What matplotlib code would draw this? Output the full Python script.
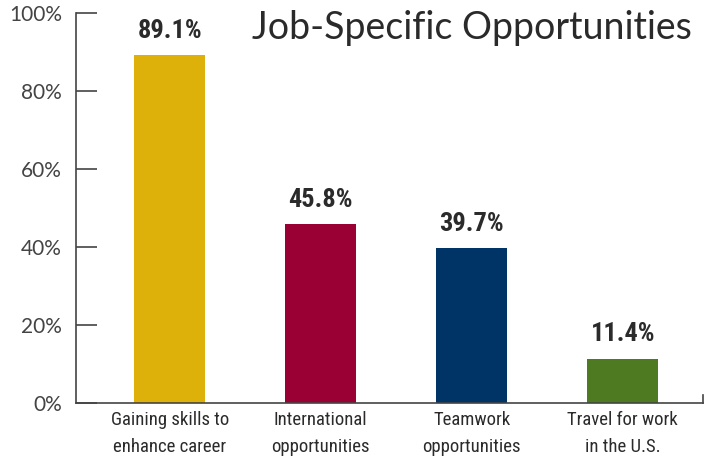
import matplotlib.pyplot as plt
from matplotlib import font_manager

categories = ["Gaining skills to\nenhance career", "International\nopportunities",
              "Teamwork\nopportunities", "Travel for work\nin the U.S."]
values = [89.1, 45.8, 39.7, 11.4]
colors = ["#DDB10A", "#9A0033", "#003466", "#4E7A21"]
yticks = [0, 20, 40, 60, 80, 100]
ytick_labels = ["0%", "20%", "40%", "60%", "80%", "100%"]

# pick a narrow face for the labels
names = {f.name for f in font_manager.fontManager.ttflist}
narrow, stretch = "DejaVu Sans", "condensed"
for cand in ["Roboto Condensed", "Liberation Sans Narrow"]:
    if cand in names:
        narrow, stretch = cand, "normal"
        break

fig = plt.figure(figsize=(7.1, 4.63), dpi=100)
ax = fig.add_axes([0.107, 0.1296, 0.883, 0.8424])

x = list(range(len(values)))
ax.bar(x, values, width=0.47, color=colors, zorder=2)

for i, v in zip(x, values):
    ax.text(i, v + 6.2, f"{v}%", ha="center", va="center", fontsize=19,
            fontweight="bold", family=narrow, stretch=stretch, color="#2b2b2b")

ax.set_xlim(-0.62, 3.53)
ax.set_ylim(0, 100)
ax.set_yticks(yticks)
ax.set_yticklabels(ytick_labels, fontsize=15, color="#444444", family="Lato")
ax.tick_params(axis="y", direction="in", length=15, width=1.2, color="#444444", pad=10)

ax.set_xticks(x)
ax.set_xticklabels(categories, fontsize=13.5, family=narrow, stretch=stretch,
                   color="#2b2b2b", linespacing=1.6)
ax.tick_params(axis="x", length=0, pad=6)

for s in ["top", "right"]:
    ax.spines[s].set_visible(False)
for s in ["left", "bottom"]:
    ax.spines[s].set_color("#444444")
    ax.spines[s].set_linewidth(1.2)

# small end mark on the right of the baseline
ax.plot([3.53, 3.53], [0, 2], color="#444444", lw=1.2, clip_on=False)

fig.text(0.975, 0.94, "Job-Specific Opportunities", ha="right", va="center",
         fontsize=27, family="Lato", color="#2a2a2a")

fig.savefig("out.png", dpi=100)
